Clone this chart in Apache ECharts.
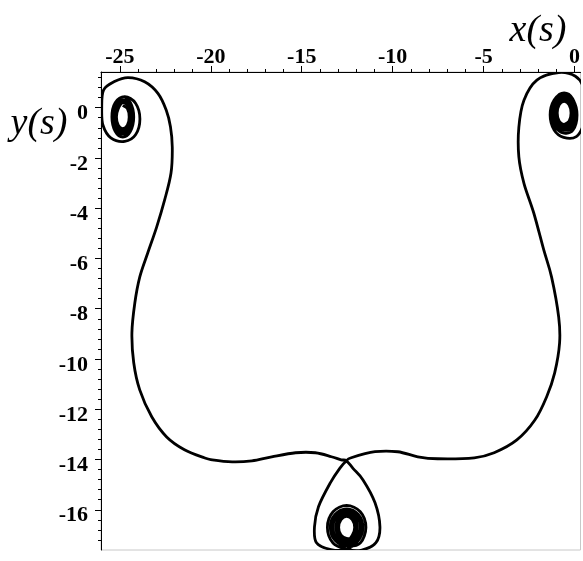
<!DOCTYPE html>
<html>
<head>
<meta charset="utf-8">
<script src="https://cdn.jsdelivr.net/npm/echarts@6/dist/echarts.min.js"></script>
<style>
  html, body { margin: 0; padding: 0; background: #fff; }
  #chart { width: 583px; height: 561px; }
</style>
</head>
<body>
<div id="chart"></div>
<script>
// Tick positions
const xMajorTicks = [-25, -20, -15, -10, -5, 0];
const xMinorTicks = [-25, -24, -23, -22, -21, -20, -19, -18, -17, -16, -15, -14, -13, -12, -11, -10, -9, -8, -7, -6, -5, -4, -3, -2, -1, 0];
const yMajorTicks = [0, -2, -4, -6, -8, -10, -12, -14, -16];
const yMinorTicks = [1.2, 0.8, 0.4, 0, -0.4, -0.8, -1.2, -1.6, -2, -2.4, -2.8, -3.2, -3.6, -4, -4.4, -4.8, -5.2, -5.6, -6, -6.4, -6.8, -7.2, -7.6, -8, -8.4, -8.8, -9.2, -9.6, -10, -10.4, -10.8, -11.2, -11.6, -12, -12.4, -12.8, -13.2, -13.6, -14, -14.4, -14.8, -15.2, -15.6, -16, -16.4, -16.8, -17.2];

// Curve (x(s), y(s)), traced in order of s
// inner windings of the left spiral
const leftSpiral = [
  [-24.84, 0.09], [-24.59, -0.04], [-24.49, -0.37], [-24.59, -0.70], [-24.84, -0.83], [-25.09, -0.70], [-25.19, -0.37], [-25.09, -0.04],
  [-24.84, 0.20], [-24.53, 0.03], [-24.40, -0.37], [-24.53, -0.77], [-24.84, -0.94], [-25.15, -0.77], [-25.28, -0.37], [-25.15, 0.03],
  [-24.84, 0.31], [-24.47, 0.11], [-24.32, -0.37], [-24.47, -0.85], [-24.84, -1.05], [-25.21, -0.85], [-25.36, -0.37], [-25.21, 0.11],
  [-24.84, 0.43], [-24.42, 0.20], [-24.24, -0.37], [-24.42, -0.94], [-24.84, -1.17], [-25.26, -0.94], [-25.44, -0.37], [-25.26, 0.20],
  [-24.73, 0.44], [-24.14, 0.18], [-23.90, -0.45], [-24.14, -1.08], [-24.73, -1.34], [-25.50, -1.20]
];
// outer swing of the left spiral and the left lobe
const leftLobe = [
  [-25.93, -0.70], [-26.00, -0.05], [-25.90, 0.70], [-25.27, 1.05], [-24.55, 1.20], [-23.64, 1.03], [-22.91, 0.57],
  [-22.45, -0.10], [-22.22, -0.76], [-22.12, -1.57], [-22.19, -2.60], [-22.54, -3.67], [-22.98, -4.75], [-23.47, -5.78],
  [-23.91, -6.74], [-24.18, -7.77], [-24.34, -8.96], [-24.24, -10.15], [-23.91, -11.23], [-23.25, -12.30], [-22.43, -13.10],
  [-21.45, -13.61], [-20.36, -13.93]
];
// wavy bottom edge, left half
const leftArm = [
  [-19.92, -14.01], [-18.83, -14.09], [-17.74, -14.05], [-16.65, -13.89], [-15.34, -13.73], [-14.25, -13.73],
  [-13.37, -13.89], [-12.83, -14.01], [-12.54, -14.05]
];
// teardrop, right side going down
const dropIn = [
  [-12.17, -14.36], [-11.63, -14.81], [-10.97, -15.72], [-10.70, -16.68], [-10.92, -17.31], [-11.70, -17.60]
];
// windings of the bottom spiral, outer to inner
const bottomLoopA = [[-12.53, -17.57], [-13.28, -17.32], [-13.59, -16.70], [-13.28, -16.08], [-12.53, -15.83], [-11.78, -16.08], [-11.47, -16.70], [-11.78, -17.32]];
const bottomLoopB = [[-12.53, -17.44], [-13.17, -17.22], [-13.43, -16.70], [-13.17, -16.18], [-12.53, -15.96], [-11.89, -16.18], [-11.63, -16.70], [-11.89, -17.22]];
const bottomLoopC = [[-12.53, -17.34], [-13.06, -17.15], [-13.28, -16.70], [-13.06, -16.25], [-12.53, -16.06], [-12.00, -16.25], [-11.78, -16.70], [-12.00, -17.15]];
const bottomLoopD = [[-12.53, -17.24], [-12.95, -17.08], [-13.12, -16.70], [-12.95, -16.32], [-12.53, -16.16], [-12.11, -16.32], [-11.94, -16.70], [-12.11, -17.08]];
const bottomLoopE = [[-12.53, -17.14], [-12.84, -17.01], [-12.97, -16.70], [-12.84, -16.39], [-12.53, -16.26], [-12.22, -16.39], [-12.09, -16.70], [-12.22, -17.01]];
// teardrop, left side going up back to the crossing
const dropOut = [
  [-12.53, -17.57], [-13.40, -17.58], [-14.19, -17.31], [-14.30, -16.68], [-14.08, -15.88], [-13.43, -14.93], [-12.90, -14.34], [-12.54, -14.05]
];
// wavy bottom edge, right half, and the right lobe
const rightLobe = [
  [-12.28, -13.93], [-10.97, -13.69], [-9.72, -13.69], [-8.62, -13.89], [-7.53, -13.97], [-5.51, -13.93], [-4.42, -13.73],
  [-3.17, -13.22], [-2.18, -12.43], [-1.53, -11.50], [-1.09, -10.55], [-0.82, -9.36], [-0.87, -8.33], [-1.26, -6.74],
  [-1.69, -5.66], [-2.24, -4.19], [-2.78, -3.01], [-3.06, -1.96], [-3.06, -0.77], [-2.78, 0.30], [-2.07, 1.10],
  [-0.87, 1.40], [0.05, 1.25], [0.50, 0.80], [0.62, 0.05], [0.50, -0.65], [0.10, -1.15], [-0.60, -1.18]
];
// windings of the right spiral, outer to inner
const rightSpiral = [
  [-1.12, -0.89], [-1.34, -0.29], [-1.12, 0.31], [-0.60, 0.56], [-0.08, 0.31], [0.14, -0.29], [-0.08, -0.89],
  [-0.57, -1.01], [-1.04, -0.78], [-1.23, -0.21], [-1.04, 0.36], [-0.57, 0.59], [-0.10, 0.36], [0.09, -0.21], [-0.10, -0.78],
  [-0.57, -0.89], [-0.97, -0.69], [-1.13, -0.21], [-0.97, 0.27], [-0.57, 0.47], [-0.17, 0.27], [-0.01, -0.21], [-0.17, -0.69],
  [-0.57, -0.78], [-0.90, -0.61], [-1.04, -0.21], [-0.90, 0.19], [-0.57, 0.36], [-0.24, 0.19], [-0.10, -0.21], [-0.24, -0.61],
  [-0.57, -0.67], [-0.84, -0.54], [-0.95, -0.21], [-0.84, 0.12], [-0.57, 0.25], [-0.30, 0.12], [-0.19, -0.21], [-0.30, -0.54], [-0.57, -0.67]
];

const curve = [].concat(
  leftSpiral, leftLobe, leftArm, dropIn,
  bottomLoopA, bottomLoopB, bottomLoopC, bottomLoopD, bottomLoopE,
  bottomLoopD, bottomLoopC, bottomLoopB,
  dropOut, rightLobe, rightSpiral
);

const X_MIN = -26.04, X_MAX = 0.33, Y_MIN = -17.6, Y_MAX = 1.42;
const labelFont = { fontFamily: '"Liberation Serif", "Times New Roman", serif', fontSize: 22, fontWeight: 'bold', color: '#000' };

// Smooth path (Catmull-Rom as cubic Béziers) through pixel points
function smoothPath(pts) {
  let d = 'M' + pts[0][0] + ' ' + pts[0][1];
  for (let i = 0; i < pts.length - 1; i++) {
    const p0 = pts[i > 0 ? i - 1 : i];
    const p1 = pts[i];
    const p2 = pts[i + 1];
    const p3 = pts[i + 2 < pts.length ? i + 2 : i + 1];
    const c1x = p1[0] + (p2[0] - p0[0]) / 6, c1y = p1[1] + (p2[1] - p0[1]) / 6;
    const c2x = p2[0] - (p3[0] - p1[0]) / 6, c2y = p2[1] - (p3[1] - p1[1]) / 6;
    d += 'C' + c1x + ' ' + c1y + ' ' + c2x + ' ' + c2y + ' ' + p2[0] + ' ' + p2[1];
  }
  return d;
}

const chart = echarts.init(document.getElementById('chart'), null, { renderer: 'canvas' });
chart.setOption({
  animation: false,
  backgroundColor: '#fff',
  grid: { left: 101, top: 72, right: -1, bottom: 11, show: true, borderColor: '#c8c8c8', borderWidth: 1, backgroundColor: 'transparent' },
  xAxis: [
    {
      type: 'value', position: 'top', min: X_MIN, max: X_MAX,
      axisLine: { show: true, onZero: false, lineStyle: { color: '#000', width: 1 } },
      axisTick: { show: true, length: 6, customValues: xMajorTicks, lineStyle: { color: '#000', width: 1 } },
      axisLabel: Object.assign({ customValues: xMajorTicks, margin: 4 }, labelFont),
      splitLine: { show: false }
    },
    {
      type: 'value', position: 'top', min: X_MIN, max: X_MAX,
      axisLine: { show: false, onZero: false },
      axisTick: { show: true, length: 3, customValues: xMinorTicks, lineStyle: { color: '#000', width: 1 } },
      axisLabel: { show: false },
      splitLine: { show: false }
    }
  ],
  yAxis: [
    {
      type: 'value', position: 'left', min: Y_MIN, max: Y_MAX,
      axisLine: { show: true, onZero: false, lineStyle: { color: '#000', width: 1 } },
      axisTick: { show: true, length: 6, customValues: yMajorTicks, lineStyle: { color: '#000', width: 1 } },
      axisLabel: Object.assign({ customValues: yMajorTicks, margin: 13, verticalAlign: 'top', lineHeight: 12 }, labelFont),
      splitLine: { show: false }
    },
    {
      type: 'value', position: 'left', min: Y_MIN, max: Y_MAX,
      axisLine: { show: false, onZero: false },
      axisTick: { show: true, length: 3, customValues: yMinorTicks, lineStyle: { color: '#000', width: 1 } },
      axisLabel: { show: false },
      splitLine: { show: false }
    }
  ],
  series: [{
    type: 'custom',
    coordinateSystem: 'cartesian2d',
    xAxisIndex: 0,
    yAxisIndex: 0,
    data: curve,
    encode: { x: 0, y: 1 },
    clip: true,
    renderItem: function (params, api) {
      if (params.dataIndex !== 0) return null;
      const pts = curve.map(function (p) { return api.coord(p); });
      return {
        type: 'path',
        shape: { pathData: smoothPath(pts) },
        style: { fill: 'none', stroke: '#000', lineWidth: 2.8, lineJoin: 'round' }
      };
    }
  }],
  graphic: [
    { type: 'text', x: 538, y: 31, style: { text: 'x(s)', font: 'italic 38px "Liberation Serif", serif', fill: '#000', align: 'center', verticalAlign: 'middle' } },
    { type: 'text', x: 39, y: 124, style: { text: 'y(s)', font: 'italic 38px "Liberation Serif", serif', fill: '#000', align: 'center', verticalAlign: 'middle' } }
  ]
});
</script>
</body>
</html>
